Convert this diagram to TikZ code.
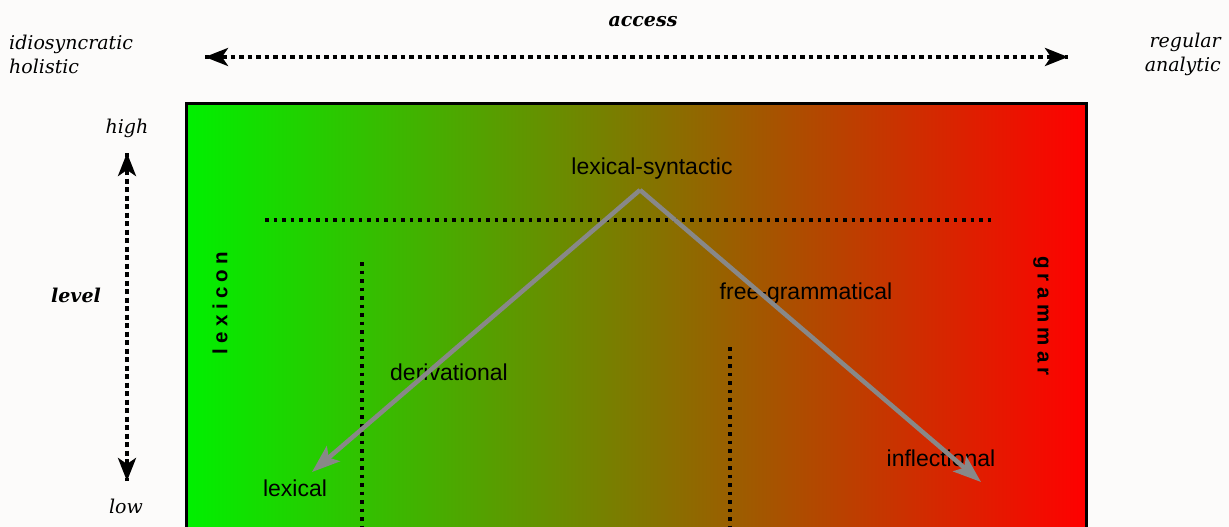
\documentclass[tikz,border=0pt]{standalone}
\usepackage{fontspec}
\setmainfont{DejaVu Serif}
\setsansfont{Liberation Sans}
\usetikzlibrary{arrows.meta}
\definecolor{bg}{HTML}{FCFBFA}
\definecolor{lgreen}{RGB}{0,240,0}
\definecolor{lred}{RGB}{255,0,0}
\definecolor{arrowgray}{RGB}{136,136,136}
\tikzset{
  dotline/.style={line width=4pt, dash pattern=on 3.5pt off 5pt},
  blackhead/.style={-{Stealth[length=23pt,width=18pt,inset=6pt]}},
  grayarrow/.style={draw=arrowgray, line width=4.5pt, -{Stealth[length=28pt,width=20pt,inset=6pt]}},
  lab/.style={font=\sffamily\fontsize{23}{26}\selectfont, inner sep=0pt},
  side/.style={font=\rmfamily\itshape\fontsize{19}{24}\selectfont, inner sep=0pt},
  bside/.style={font=\rmfamily\bfseries\itshape\fontsize{19}{24}\selectfont, inner sep=0pt},
  spaced/.style={font=\sffamily\bfseries\fontsize{20.5}{22}\selectfont\addfontfeatures{LetterSpace=26}, inner sep=0pt}
}
\begin{document}
\begin{tikzpicture}[x=1pt,y=-1pt]
\path[use as bounding box, clip] (0,0) rectangle (1229,527);
\fill[bg] (0,0) rectangle (1229,527);
% box
\shade[left color=lgreen, right color=lred] (186,103) rectangle (1086,540);
\draw[line width=3pt] (186,540) -- (186,103) -- (1086,103) -- (1086,540);
% top access arrow
\node[bside] (access) at (643,22) {access};
\coordinate (accL) at (205,57);
\coordinate (accR) at (1068,57);
\draw[dotline, blackhead] (accL) -- (accR);
\draw[dotline, blackhead] (accR) -- (accL);
\node[side, anchor=west, align=left] (leftlab) at (9,54) {idiosyncratic\\holistic};
\node[side, anchor=east, align=right] (rightlab) at (1221,54) {regular\\analytic};
% level arrow
\node[side] (high) at (127,128) {high};
\node[side] (low) at (126,506) {low};
\node[bside] (level) at (76,295) {level};
\coordinate (levT) at (127,153);
\coordinate (levB) at (127,481);
\draw[dotline, blackhead] (levB) -- (levT);
\draw[dotline, blackhead] (levT) -- (levB);
% side labels
\node[spaced, rotate=90] (lexicon) at (220,303) {lexicon};
\node[spaced, rotate=-90] (grammar) at (1041,316) {grammar};
% dotted separators
\coordinate (hL) at (265,220);
\coordinate (hR) at (992,220);
\draw[dotline] (hL) -- (hR);
\coordinate (v1T) at (362,262);
\coordinate (v1B) at (362,530);
\draw[dotline] (v1T) -- (v1B);
\coordinate (v2T) at (730,347);
\coordinate (v2B) at (730,530);
\draw[dotline] (v2T) -- (v2B);
% labels
\node[lab] (ls) at (652,169) {lexical-syntactic};
\node[lab] (deriv) at (449,372) {derivational};
\node[lab] (freeg) at (806,294) {free-grammatical};
\node[lab] (infl) at (941,458) {inflectional};
\node[lab] (lexical) at (295,488) {lexical};
% gray arrows
\coordinate (apex) at (640,190);
\coordinate (tipL) at (312,472);
\coordinate (tipR) at (981,482);
\draw[grayarrow] (apex) -- (tipL);
\draw[grayarrow] (apex) -- (tipR);
\end{tikzpicture}
\end{document}
